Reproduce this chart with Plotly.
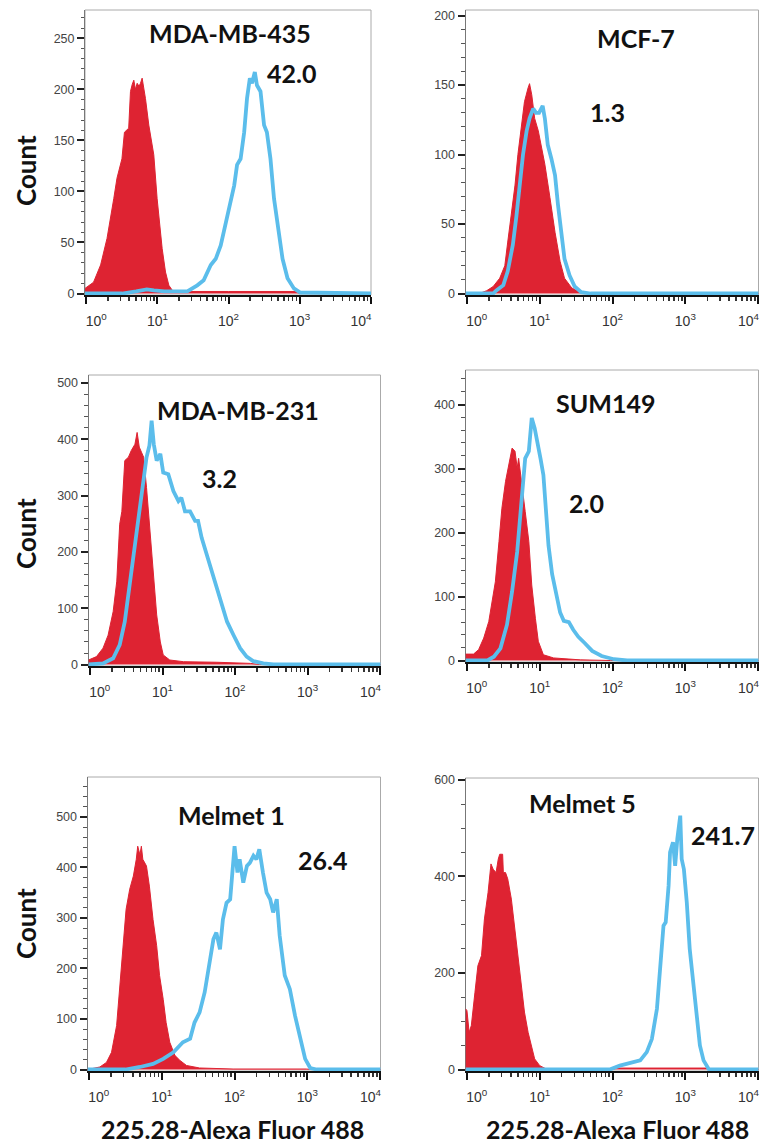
import plotly.graph_objects as go

W, H = 761, 1144

# ---------------- data (x in decades of log10 fluorescence, y = count) ----------------
names = ["MDA-MB-435", "MCF-7", "MDA-MB-231", "SUM149", "Melmet 1", "Melmet 5"]
values = ["42.0", "1.3", "3.2", "2.0", "26.4", "241.7"]

p1_red_dec = [-0.02, 0.10, 0.20, 0.29, 0.385, 0.43, 0.50, 0.535, 0.595, 0.62, 0.645, 0.667, 0.69, 0.714, 0.74, 0.761, 0.784, 0.81, 0.831, 0.878, 0.948, 0.995, 1.066, 1.113, 1.16, 1.21, 1.5, 2.0, 2.5, 2.95, 3.0, 4.01]
p1_red_cnt = [5, 11, 28, 54, 93, 113, 132, 158, 162, 198, 205, 209, 200, 206, 203, 206, 211, 200, 191, 165, 136, 93, 44, 21, 8, 3, 2, 2, 2, 2, 0, 0]
p1_blue_dec = [-0.02, 0.5, 0.7, 0.85, 0.95, 1.1, 1.3, 1.42, 1.56, 1.65, 1.75, 1.82, 1.89, 1.93, 1.98, 2.03, 2.08, 2.12, 2.17, 2.22, 2.26, 2.30, 2.33, 2.37, 2.40, 2.45, 2.50, 2.54, 2.59, 2.64, 2.69, 2.76, 2.83, 2.92, 3.01, 4.01]
p1_blue_cnt = [0, 0, 2, 4, 3, 2, 2, 2, 8, 13, 28, 34, 47, 60, 77, 93, 106, 126, 132, 158, 191, 211, 206, 217, 204, 198, 165, 158, 132, 93, 67, 34, 15, 5, 1, 0]

p2_red_dec = [-0.02, 0.17, 0.27, 0.36, 0.45, 0.52, 0.56, 0.61, 0.66, 0.70, 0.75, 0.79, 0.84, 0.86, 0.89, 0.93, 0.98, 1.02, 1.07, 1.14, 1.21, 1.28, 1.34, 1.44, 1.55, 1.7, 4.01]
p2_red_cnt = [0, 0, 2, 5, 11, 20, 37, 56, 78, 100, 121, 138, 148, 151, 143, 126, 117, 107, 93, 69, 44, 23, 11, 4, 1, 0, 0]
p2_blue_dec = [-0.02, 0.36, 0.40, 0.50, 0.56, 0.63, 0.68, 0.72, 0.77, 0.82, 0.86, 0.91, 0.95, 0.99, 1.04, 1.07, 1.11, 1.16, 1.21, 1.25, 1.30, 1.34, 1.41, 1.48, 1.57, 1.7, 4.01]
p2_blue_cnt = [0, 0, 2, 6, 16, 35, 56, 78, 100, 117, 126, 133, 130, 130, 135, 126, 107, 97, 85, 64, 42, 25, 13, 5, 1, 0, 0]

p3_red_dec = [-0.02, 0.09, 0.18, 0.25, 0.32, 0.37, 0.41, 0.44, 0.48, 0.53, 0.57, 0.62, 0.65, 0.68, 0.71, 0.74, 0.78, 0.83, 0.87, 0.92, 0.97, 1.01, 1.10, 1.29, 1.75, 2.21, 2.34, 4.01]
p3_red_cnt = [8, 14, 29, 52, 94, 148, 249, 272, 362, 368, 380, 391, 412, 386, 377, 368, 314, 231, 159, 88, 40, 17, 8, 5, 4, 2, 0, 0]
p3_blue_dec = [-0.02, 0.18, 0.32, 0.41, 0.48, 0.55, 0.62, 0.69, 0.74, 0.78, 0.82, 0.85, 0.88, 0.92, 0.97, 1.01, 1.08, 1.15, 1.22, 1.26, 1.31, 1.38, 1.45, 1.49, 1.54, 1.61, 1.70, 1.79, 1.89, 1.98, 2.07, 2.16, 2.25, 2.39, 2.53, 4.01]
p3_blue_cnt = [0, 2, 11, 35, 76, 142, 213, 278, 320, 368, 389, 433, 391, 362, 374, 341, 338, 308, 290, 296, 272, 272, 255, 255, 225, 195, 159, 118, 76, 52, 29, 14, 6, 2, 0, 0]

p4_red_dec = [-0.02, 0.09, 0.16, 0.23, 0.30, 0.34, 0.39, 0.44, 0.48, 0.53, 0.57, 0.62, 0.66, 0.69, 0.71, 0.76, 0.80, 0.85, 0.89, 0.94, 0.98, 1.05, 1.19, 1.56, 1.97, 4.01]
p4_red_cnt = [10, 10, 17, 35, 61, 92, 123, 186, 238, 280, 301, 332, 327, 301, 316, 264, 233, 186, 118, 66, 30, 9, 4, 1, 0, 0]
p4_blue_dec = [-0.02, 0.28, 0.37, 0.46, 0.55, 0.62, 0.69, 0.76, 0.80, 0.85, 0.89, 0.93, 0.96, 1.01, 1.05, 1.08, 1.12, 1.17, 1.22, 1.28, 1.33, 1.40, 1.46, 1.53, 1.62, 1.72, 1.85, 2.02, 2.20, 4.01]
p4_blue_cnt = [0, 0, 6, 19, 56, 108, 170, 254, 316, 327, 379, 363, 342, 316, 290, 240, 180, 135, 105, 75, 62, 60, 48, 37, 27, 15, 7, 2, 0, 0]

p5_red_dec = [-0.02, 0.15, 0.24, 0.31, 0.38, 0.42, 0.47, 0.51, 0.56, 0.61, 0.65, 0.67, 0.70, 0.72, 0.74, 0.79, 0.83, 0.88, 0.93, 0.97, 1.02, 1.06, 1.11, 1.18, 1.25, 1.34, 1.52, 1.98, 2.99, 3.05, 4.01]
p5_red_cnt = [0, 5, 14, 34, 87, 153, 245, 317, 357, 383, 416, 442, 425, 442, 416, 403, 363, 297, 245, 186, 139, 93, 54, 28, 18, 8, 3, 1, 1, 0, 0]
p5_blue_dec = [-0.02, 0.5, 0.70, 0.88, 1.02, 1.16, 1.29, 1.39, 1.45, 1.52, 1.59, 1.66, 1.71, 1.75, 1.80, 1.84, 1.89, 1.94, 1.98, 2.00, 2.04, 2.07, 2.12, 2.17, 2.21, 2.26, 2.30, 2.34, 2.39, 2.44, 2.49, 2.53, 2.58, 2.62, 2.69, 2.76, 2.83, 2.90, 2.97, 3.04, 3.13, 4.01]
p5_blue_cnt = [0, 0, 5, 11, 21, 34, 54, 61, 93, 113, 153, 212, 258, 271, 238, 297, 330, 337, 403, 442, 390, 416, 370, 403, 409, 423, 416, 436, 390, 350, 337, 311, 337, 265, 186, 159, 107, 61, 21, 3, 0, 0]

p6_red_dec = [-0.02, 0.0, 0.03, 0.06, 0.11, 0.15, 0.20, 0.24, 0.29, 0.33, 0.36, 0.40, 0.43, 0.45, 0.49, 0.50, 0.53, 0.56, 0.61, 0.66, 0.70, 0.75, 0.79, 0.84, 0.89, 0.93, 1.00, 1.09, 2.0, 2.05, 3.3, 3.35, 4.01]
p6_red_cnt = [126, 122, 77, 91, 160, 215, 236, 312, 367, 426, 415, 408, 436, 446, 446, 408, 408, 395, 353, 291, 229, 174, 119, 77, 43, 22, 8, 1, 0, 3, 3, 0, 0]
p6_blue_dec = [-0.02, 1.96, 2.10, 2.28, 2.38, 2.47, 2.54, 2.61, 2.65, 2.70, 2.73, 2.77, 2.79, 2.83, 2.86, 2.89, 2.93, 2.95, 2.98, 3.02, 3.06, 3.11, 3.16, 3.20, 3.25, 3.32, 3.39, 4.01]
p6_blue_cnt = [0, 0, 8, 14, 19, 36, 63, 126, 195, 298, 305, 381, 450, 471, 422, 478, 526, 436, 415, 346, 250, 174, 105, 50, 19, 1, 0, 0]

x_tick_vals = [1, 10, 100, 1000, 10000]
x_tick_exp = ["0", "1", "2", "3", "4"]
y_top = [277.8, 204, 514, 454, 579, 604]
y_dtick = [50, 50, 100, 100, 100, 200]
y_minor = [10, 10, 20, 20, 20, 50]

x_title = "225.28-Alexa Fluor 488"
y_title = "Count"

# ---------------- layout geometry (pixels) ----------------
px_x = [(85, 371), (465.5, 758.5), (88.5, 380.5), (465.5, 758.5), (87.5, 380.5), (465.5, 758.5)]
px_y = [(10, 295), (10, 295), (375, 666), (370, 662), (777, 1071), (778, 1071)]
title_pos = [(230, 33), (636, 38), (238, 410), (605, 403), (231, 815), (582, 803)]
value_pos = [(291, 73), (607, 112), (219, 478), (586, 503), (322, 860), (723, 835)]
count_pos = [(26, 171), (26, 534), (26, 924)]
xtitle_pos = [(232, 1129), (617, 1129)]

RED = "#DE2332"
BLUE = "#5BBDEB"
NB = "\u00a0"

reds = [(p1_red_dec, p1_red_cnt), (p2_red_dec, p2_red_cnt), (p3_red_dec, p3_red_cnt),
        (p4_red_dec, p4_red_cnt), (p5_red_dec, p5_red_cnt), (p6_red_dec, p6_red_cnt)]
blues = [(p1_blue_dec, p1_blue_cnt), (p2_blue_dec, p2_blue_cnt), (p3_blue_dec, p3_blue_cnt),
         (p4_blue_dec, p4_blue_cnt), (p5_blue_dec, p5_blue_cnt), (p6_blue_dec, p6_blue_cnt)]

minor_vals = [m * 10 ** d for d in range(4) for m in range(2, 10)]
tick_text = []
for k, e in enumerate(x_tick_exp):
    t = "10<sup>%s</sup>" % e
    if k == 0:
        t = NB * 5 + t
    elif k == len(x_tick_exp) - 1:
        t = t + NB * 5
    tick_text.append(t)

fig = go.Figure()
layout = {}
shapes = []
annotations = []


def px2paper(x, y):
    return x / W, 1 - y / H


for i in range(6):
    sfx = "" if i == 0 else str(i + 1)
    xa, ya = "x" + sfx, "y" + sfx
    rd, rc = reds[i]
    bd, bc = blues[i]
    fig.add_trace(go.Scatter(x=[10 ** d for d in rd], y=rc, xaxis=xa, yaxis=ya, mode="lines",
                             line=dict(color=RED, width=1), fill="tozeroy", fillcolor=RED,
                             hoverinfo="skip", showlegend=False))
    fig.add_trace(go.Scatter(x=[10 ** d for d in bd], y=bc, xaxis=xa, yaxis=ya, mode="lines",
                             line=dict(color=BLUE, width=3.8), hoverinfo="skip", showlegend=False))
    x0, x1 = px_x[i]
    y0, y1 = px_y[i]
    ypix = (y1 - y0)
    ymin = -1.5 * y_top[i] / ypix
    layout["xaxis" + sfx] = dict(
        type="log", domain=[x0 / W, x1 / W], range=[-0.02, 4.005], anchor=ya, automargin=False,
        tickmode="array", tickvals=x_tick_vals, ticktext=tick_text, ticklabeloverflow="allow",
        ticks="outside", ticklen=7, tickwidth=2, tickcolor="#111",
        showline=True, linecolor="#111", linewidth=2, showgrid=False, zeroline=False,
        layer="below traces", ticklabelstandoff=5,
        tickfont=dict(family="Liberation Sans, Arial", size=14, color="#333"),
        minor=dict(tickmode="array", tickvals=minor_vals, ticks="outside", ticklen=3.5,
                   tickwidth=1.5, tickcolor="#333", showgrid=False),
    )
    layout["yaxis" + sfx] = dict(
        domain=[1 - y1 / H, 1 - y0 / H], range=[ymin, y_top[i]], anchor=xa, automargin=False,
        tick0=0, dtick=y_dtick[i], ticks="outside", ticklen=7, tickwidth=2, tickcolor="#222",
        showline=True, linecolor="#777", linewidth=1, showgrid=False, zeroline=False,
        layer="below traces", ticklabeloverflow="allow",
        tickfont=dict(family="Liberation Sans, Arial", size=12.5, color="#444"),
        minor=dict(dtick=y_minor[i], tick0=0, ticks="outside", ticklen=3.5, tickwidth=1,
                   tickcolor="#555", showgrid=False),
    )
    shapes.append(dict(type="rect", xref=xa + " domain", yref=ya + " domain", x0=0, x1=1, y0=0, y1=1,
                       line=dict(color="#aaa", width=1), layer="below"))
    tx, ty = px2paper(*title_pos[i])
    annotations.append(dict(x=tx, y=ty, xref="paper", yref="paper", text=names[i], showarrow=False,
                            xanchor="center", yanchor="middle",
                            font=dict(family="Lato", size=25, color="#111", weight="bold")))
    vx, vy = px2paper(*value_pos[i])
    annotations.append(dict(x=vx, y=vy, xref="paper", yref="paper", text=values[i], showarrow=False,
                            xanchor="center", yanchor="middle",
                            font=dict(family="Lato", size=25, color="#111", weight="bold")))

for (cx, cy) in count_pos:
    ax_, ay_ = px2paper(cx, cy)
    annotations.append(dict(x=ax_, y=ay_, xref="paper", yref="paper", text=y_title, showarrow=False,
                            textangle=-90, xanchor="center", yanchor="middle",
                            font=dict(family="Lato", size=26, color="#111", weight="bold")))
for (cx, cy) in xtitle_pos:
    ax_, ay_ = px2paper(cx, cy)
    annotations.append(dict(x=ax_, y=ay_, xref="paper", yref="paper", text=x_title, showarrow=False,
                            xanchor="center", yanchor="middle",
                            font=dict(family="Lato", size=25, color="#111", weight="bold")))

fig.update_layout(**layout)
fig.update_layout(width=W, height=H, margin=dict(l=0, r=0, t=0, b=0, autoexpand=False),
                  paper_bgcolor="white", plot_bgcolor="white",
                  shapes=shapes, annotations=annotations, showlegend=False)
fig.write_html("out.html", config={"displayModeBar": False, "staticPlot": True},
               post_script="document.body.style.margin='0';document.body.style.padding='0';"
                           "document.documentElement.style.overflow='hidden';"
                           "document.body.style.overflow='hidden';")
